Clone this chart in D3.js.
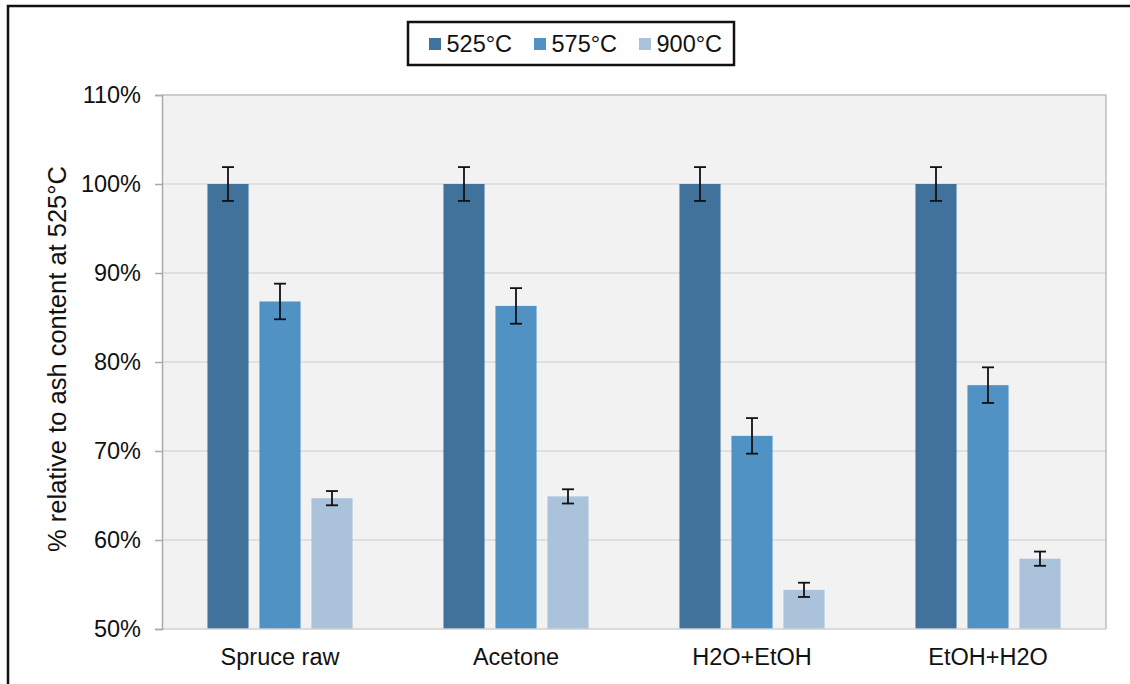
<!DOCTYPE html>
<html>
<head>
<meta charset="utf-8">
<script src="https://cdn.jsdelivr.net/npm/d3@7"></script>
<style>
  html, body { margin: 0; padding: 0; background: #fff; }
  svg { display: block; font-family: "Liberation Sans", Arial, sans-serif; }
</style>
</head>
<body>
<svg id="chart" width="1130" height="684"></svg>
<script>
// Ash content of spruce samples at three ashing temperatures
const categories = ["Spruce raw", "Acetone", "H2O+EtOH", "EtOH+H2O"];
const series = ["525°C", "575°C", "900°C"];
const values525 = [100, 100, 100, 100];
const values575 = [86.8, 86.3, 71.7, 77.4];
const values900 = [64.7, 64.9, 54.4, 57.9];
const errors525 = [1.9, 1.9, 1.9, 1.9];
const errors575 = [2.0, 2.0, 2.0, 2.0];
const errors900 = [0.8, 0.8, 0.8, 0.8];
const yTicks = [50, 60, 70, 80, 90, 100, 110];
const colors = ["#41729c", "#5092c4", "#abc2db"];

const allValues = [values525, values575, values900];
const allErrors = [errors525, errors575, errors900];

const FONT = "Liberation Sans, Arial, sans-serif";
const FS = 23.5;

const svg = d3.select("#chart");
const W = 1130, H = 684;
const plot = { left: 162, right: 1106, top: 95, bottom: 629 };

// Outer frame
svg.append("rect")
  .attr("x", 8).attr("y", 6)
  .attr("width", W + 10).attr("height", H + 10)
  .attr("fill", "none").attr("stroke", "#111").attr("stroke-width", 2.5);

const y = d3.scaleLinear().domain([50, 110]).range([plot.bottom, plot.top]);
const x0 = d3.scaleBand().domain(categories).range([plot.left, plot.right]).padding(0);
const mid = x0.bandwidth() / 2;
const x1 = d3.scaleBand().domain(series)
  .range([mid - 78, mid + 78])
  .paddingInner(0.21).paddingOuter(0.105);

// Plot background
svg.append("rect")
  .attr("x", plot.left).attr("y", plot.top)
  .attr("width", plot.right - plot.left).attr("height", plot.bottom - plot.top)
  .attr("fill", "#f2f2f2");

// Gridlines
svg.append("g").selectAll("line")
  .data(yTicks.slice(1, -1))
  .join("line")
  .attr("x1", plot.left).attr("x2", plot.right)
  .attr("y1", d => y(d)).attr("y2", d => y(d))
  .attr("stroke", "#d9d9d9").attr("stroke-width", 1.5);

// Bars
const rows = categories.map((c, i) => ({
  cat: c,
  items: series.map((s, j) => ({ s, j, v: allValues[j][i], e: allErrors[j][i] }))
}));

const groups = svg.append("g").selectAll("g")
  .data(rows)
  .join("g")
  .attr("transform", d => `translate(${x0(d.cat)},0)`);

groups.selectAll("rect")
  .data(d => d.items)
  .join("rect")
  .attr("x", d => x1(d.s))
  .attr("y", d => y(d.v))
  .attr("width", x1.bandwidth())
  .attr("height", d => y(50) - y(d.v))
  .attr("fill", d => colors[d.j]);

// Error bars
const eb = groups.selectAll("g.err")
  .data(d => d.items)
  .join("g").attr("class", "err")
  .attr("stroke", "#111").attr("stroke-width", 1.8);
const cx = d => x1(d.s) + x1.bandwidth() / 2;
eb.append("line")
  .attr("x1", cx).attr("x2", cx)
  .attr("y1", d => y(d.v + d.e)).attr("y2", d => y(d.v - d.e));
eb.append("line")
  .attr("x1", d => cx(d) - 6).attr("x2", d => cx(d) + 6)
  .attr("y1", d => y(d.v + d.e)).attr("y2", d => y(d.v + d.e));
eb.append("line")
  .attr("x1", d => cx(d) - 6).attr("x2", d => cx(d) + 6)
  .attr("y1", d => y(d.v - d.e)).attr("y2", d => y(d.v - d.e));

// Plot area border (top/right) and bottom line
svg.append("path")
  .attr("d", `M${plot.left},${plot.top}H${plot.right}V${plot.bottom}`)
  .attr("fill", "none").attr("stroke", "#bfbfbf").attr("stroke-width", 1.5);
svg.append("line")
  .attr("x1", plot.left).attr("x2", plot.right)
  .attr("y1", plot.bottom).attr("y2", plot.bottom)
  .attr("stroke", "#d0d0d0").attr("stroke-width", 1.5);

// Y axis
const yAxis = d3.axisLeft(y)
  .tickValues(yTicks)
  .tickFormat(d => d + "%")
  .tickSize(7)
  .tickPadding(14);
const ya = svg.append("g")
  .attr("transform", `translate(${plot.left},0)`)
  .call(yAxis);
ya.select(".domain").attr("stroke", "#aaaaaa").attr("stroke-width", 1.5);
ya.selectAll(".tick line").attr("stroke", "#aaaaaa").attr("stroke-width", 1.5);
ya.selectAll(".tick text")
  .attr("fill", "#111").attr("font-size", FS).attr("font-family", FONT);

// X axis labels
const xAxis = d3.axisBottom(x0).tickSize(0).tickPadding(19);
const xa = svg.append("g")
  .attr("transform", `translate(0,${plot.bottom})`)
  .call(xAxis);
xa.select(".domain").remove();
xa.selectAll(".tick text")
  .attr("fill", "#111").attr("font-size", FS).attr("font-family", FONT);

// Y axis title
svg.append("text")
  .attr("transform", "translate(66,359) rotate(-90)")
  .attr("text-anchor", "middle")
  .attr("font-size", 25.5).attr("fill", "#111").attr("font-family", FONT)
  .text("% relative to ash content at 525°C");

// Legend
const legend = svg.append("g").attr("transform", "translate(408,22)");
legend.append("rect")
  .attr("width", 326).attr("height", 43)
  .attr("fill", "#fff").attr("stroke", "#111").attr("stroke-width", 2.5);
const itemX = [21, 126, 231];
const li = legend.selectAll("g.item")
  .data(series)
  .join("g").attr("class", "item")
  .attr("transform", (d, i) => `translate(${itemX[i]},0)`);
li.append("rect")
  .attr("x", 0).attr("y", 16).attr("width", 12).attr("height", 12)
  .attr("fill", (d, i) => colors[i]);
li.append("text")
  .attr("x", 17.5).attr("y", 29.5)
  .attr("font-size", FS).attr("fill", "#111").attr("font-family", FONT)
  .text(d => d);
</script>
</body>
</html>
